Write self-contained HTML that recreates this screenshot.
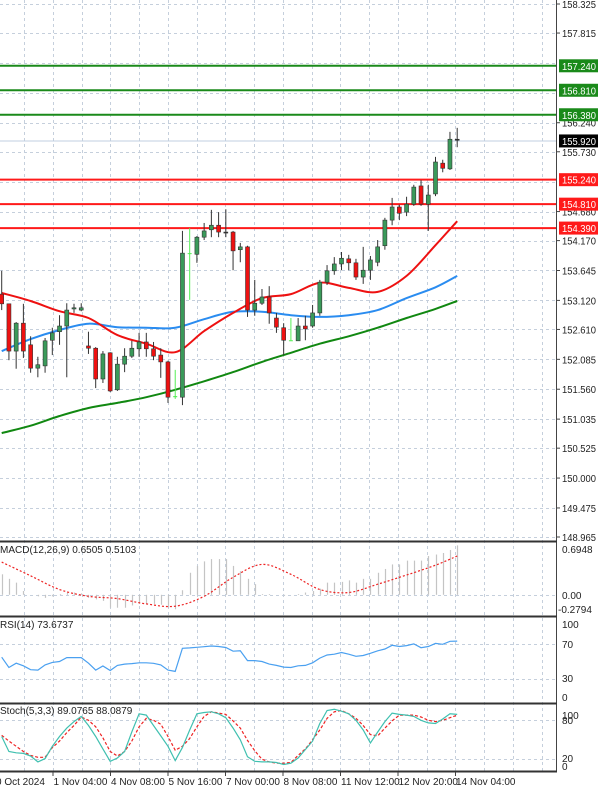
<!DOCTYPE html>
<html><head><meta charset="utf-8"><style>
html,body{margin:0;padding:0;background:#fff;width:600px;height:791px;overflow:hidden}
svg{display:block;font-family:"Liberation Sans",sans-serif}
</style></head><body>
<svg id="chart" width="600" height="791" viewBox="0 0 600 791" xmlns="http://www.w3.org/2000/svg"></svg>
<script>
// ---------- DATA ----------
const opens  = [153.23,153.06,152.23,152.72,152.34,151.93,151.97,152.42,152.57,152.67,152.97,152.95,152.32,152.28,151.74,152.20,151.55,152.00,152.14,152.27,152.39,152.27,152.16,152.04,151.42,151.42,153.95,153.93,154.23,154.36,154.44,154.32,154.32,154.01,154.06,152.95,153.07,153.18,152.81,152.64,152.42,152.41,152.67,152.67,152.90,153.44,153.64,153.76,153.85,153.78,153.53,153.65,153.79,154.08,154.53,154.76,154.67,154.81,155.13,154.81,154.99,155.53,155.43,155.95];
const highs  = [153.64,153.06,152.74,153.06,152.49,152.13,152.46,152.64,152.86,153.07,153.06,153.07,152.57,152.30,152.23,152.21,152.13,152.28,152.41,152.55,152.55,152.39,152.28,152.06,151.90,154.34,154.39,154.25,154.48,154.71,154.67,154.72,154.34,154.13,154.08,153.48,153.32,153.37,152.90,152.72,152.81,152.81,152.85,153.04,153.48,153.74,153.88,153.97,153.92,153.85,154.06,153.90,154.18,154.57,154.92,154.80,154.94,155.15,155.23,155.15,155.64,155.59,156.08,156.15];
const lows   = [152.95,152.07,151.92,152.11,151.85,151.77,151.85,152.16,152.34,151.77,152.90,152.93,152.18,151.58,151.67,151.51,151.53,151.86,152.11,152.13,152.13,152.07,151.76,151.32,151.39,151.28,153.13,153.78,154.18,154.23,154.23,154.23,153.65,153.79,152.83,152.85,153.04,152.71,152.55,152.16,152.41,152.41,152.42,152.64,152.85,153.39,153.57,153.65,153.65,153.48,153.41,153.48,153.72,154.01,154.44,154.53,154.60,154.78,154.78,154.34,154.95,155.37,155.41,155.81];
const closes = [153.06,152.23,152.72,152.23,151.93,151.99,152.41,152.55,152.67,152.95,152.99,152.99,152.28,151.74,152.18,151.53,152.00,152.14,152.28,152.39,152.27,152.14,152.04,151.42,151.44,153.95,153.95,154.23,154.34,154.44,154.32,154.31,153.99,154.06,152.95,153.07,153.18,152.90,152.65,152.42,152.42,152.67,152.62,152.90,153.44,153.64,153.76,153.86,153.78,153.53,153.65,153.83,154.06,154.53,154.76,154.65,154.81,155.11,154.81,154.97,155.55,155.44,155.95,155.94];
const lightBars = [24,26,40];
const maIdx   = [0,4,8,12,16,20,24,28,32,36,40,44,48,52,56,60,63];
const maFast  = [153.25,153.11,152.93,152.81,152.51,152.36,152.21,152.58,152.90,153.16,153.23,153.43,153.34,153.27,153.55,154.09,154.51];
const maMid   = [152.23,152.44,152.60,152.71,152.65,152.64,152.64,152.79,152.92,152.92,152.86,152.83,152.86,152.95,153.16,153.35,153.55];
const maSlow  = [150.79,150.92,151.09,151.23,151.32,151.42,151.55,151.70,151.86,152.04,152.20,152.36,152.49,152.64,152.81,152.97,153.11];
const greenLevels = [157.240,156.810,156.380];
const redLevels = [155.240,154.810,154.390];
const lastPrice = 155.920;
const priceTicks = [158.325,157.815,156.240,155.730,154.680,154.170,153.645,153.120,152.610,152.085,151.560,151.035,150.525,150.000,149.475,148.965];
const gridPrices = [158.325,157.815,157.290,156.765,156.240,155.730,155.205,154.680,154.170,153.645,153.120,152.610,152.085,151.560,151.035,150.525,150.000,149.475,148.965];
const macdHist = [0.27,0.21,0.16,0.05,0,-0.02,-0.04,-0.02,0.01,0.03,0.03,0.02,-0.04,-0.06,-0.08,-0.17,-0.17,-0.17,-0.14,-0.12,-0.12,-0.12,-0.13,-0.17,-0.19,0.06,0.29,0.38,0.44,0.47,0.47,0.47,0.38,0.31,0.21,0.14,0.01,0.01,0,-0.01,0,0.01,0.03,0.05,0.08,0.16,0.16,0.17,0.19,0.16,0.21,0.21,0.29,0.34,0.40,0.40,0.45,0.45,0.45,0.51,0.53,0.55,0.59,0.65];
const macdSigIdx = [0,4,8,12,16,20,24,28,32,36,40,44,48,52,56,60,63];
const macdSig = [0.43,0.25,0.07,-0.02,-0.05,-0.12,-0.15,-0.02,0.23,0.40,0.27,0.07,0.03,0.14,0.26,0.39,0.51];
const rsi = [55,43,48,45,40.5,40,46,49,50,54.5,54.5,54.5,48,40,44.8,39.5,45.5,47,47.5,48.5,48.5,47.9,46,40,38.5,65.3,65.8,66.5,67.2,68,67.5,66.3,62,62.5,51,51,50,47,45.5,43.5,43,45,45.5,48.5,54,57.6,58.5,60.5,58.5,56,57,59.5,62.5,64.5,68.8,67.5,68.5,70.5,66,67.5,71,70,73.5,73.7];
const stochK = [55,32,30,29,25,16,21,40,55,68,78,86,72,55,36,17,22,32,62,90,88,72,56,40,18,38,65,90,92,93,90,84,68,50,24,17,16,16,15,12,14,22,35,48,75,95,97,94,90,80,65,45,62,78,91,89,88,86,80,76,75,82,90,89];
const stochD = [57,48,40,32,26,23,23,38,48,61,72,85,80,70,53,32,25,32,48,70,83,80,74,55,34,40,52,70,86,93,91,89,79,68,49,33,20,16,14,14,15,26,36,50,65,83,93,95,90,83,72,58,56,68,79,88,88,88,85,80,78,80,84,88];
const timeLabels = ["0 Oct 2024","1 Nov 04:00","4 Nov 08:00","5 Nov 16:00","7 Nov 00:00","8 Nov 08:00","11 Nov 12:00","12 Nov 20:00","14 Nov 04:00"];

// ---------- SCALES ----------
const NS="http://www.w3.org/2000/svg";
const svg=document.getElementById('chart');
const AX=556;
const xOf=i=>1.7+7.23*i;
const yP=p=>4+(158.325-p)/0.017561;
const yM=v=>542+(0.6948-v)*76;
const yR=v=>704.5-v*0.86;
const yS=v=>772.3-v*0.65;
function mk(tag,attrs,parent){const e=document.createElementNS(NS,tag);for(const k in attrs)e.setAttribute(k,attrs[k]);(parent||svg).appendChild(e);return e;}
function smooth(pts){let d='M'+pts[0][0].toFixed(1)+','+pts[0][1].toFixed(1);
for(let i=0;i<pts.length-1;i++){const p0=pts[Math.max(0,i-1)],p1=pts[i],p2=pts[i+1],p3=pts[Math.min(pts.length-1,i+2)];
const c1=[p1[0]+(p2[0]-p0[0])/6,p1[1]+(p2[1]-p0[1])/6],c2=[p2[0]-(p3[0]-p1[0])/6,p2[1]-(p3[1]-p1[1])/6];
d+=' C'+c1[0].toFixed(1)+','+c1[1].toFixed(1)+' '+c2[0].toFixed(1)+','+c2[1].toFixed(1)+' '+p2[0].toFixed(1)+','+p2[1].toFixed(1);}
return d;}

// grid
const grid=mk('g',{stroke:'#c5cfdc','stroke-width':1,'stroke-dasharray':'3,3'});


for(let k=0;k<19;k++){const gx=Math.round(24+28.75*k)+0.5;mk('line',{x1:gx,y1:0,x2:gx,y2:771},grid);}
gridPrices.forEach(p=>{const y=Math.round(yP(p))+0.5;mk('line',{x1:0,y1:y,x2:AX,y2:y},grid);});
[0].forEach(v=>{const y=Math.round(yM(v))+0.5;mk('line',{x1:0,y1:y,x2:AX,y2:y},grid);});
[70,30].forEach(v=>{const y=Math.round(yR(v))+0.5;mk('line',{x1:0,y1:y,x2:AX,y2:y},grid);});
[80,20].forEach(v=>{const y=Math.round(yS(v))+0.5;mk('line',{x1:0,y1:y,x2:AX,y2:y},grid);});

// last price line
const lp=mk('line',{x1:0,y1:yP(lastPrice),x2:AX,y2:yP(lastPrice),stroke:'#c0cfe0','stroke-width':1});



// levels
greenLevels.forEach(p=>{const l=mk('line',{x1:0,y1:yP(p),x2:AX,y2:yP(p),stroke:'#1a8a1a','stroke-width':2});

});
redLevels.forEach(p=>{const l=mk('line',{x1:0,y1:yP(p),x2:AX,y2:yP(p),stroke:'#ff1a1a','stroke-width':2});

});

// moving averages
function maLine(vals,color,name){const pts=maIdx.map((i,k)=>[xOf(i),yP(vals[k])]);
const l=mk('path',{d:smooth(pts),fill:'none',stroke:color,'stroke-width':2,'stroke-linejoin':'round'});

}
maLine(maSlow,'#118811','ma-slow');
maLine(maMid,'#2a8cf0','ma-mid');
maLine(maFast,'#ee1111','ma-fast');

// candles
const cg=mk('g',{});


opens.forEach((o,i)=>{const c=closes[i],x=xOf(i);const light=lightBars.includes(i);
const up=c>o;const wc=light?'#55ee55':'#333';
const w=mk('line',{x1:x,y1:yP(highs[i]),x2:x,y2:yP(lows[i]),stroke:wc,'stroke-width':1},cg);


const top=yP(Math.max(o,c)),bot=yP(Math.min(o,c));
const b=mk('rect',{x:x-2,y:top,width:4,height:Math.max(1,bot-top),fill:light?'#55ee55':(Math.abs(c-o)<0.015?'#333':(up?'#3a9a5a':'#ee1111')),stroke:light?'none':'#333','stroke-width':0.6},cg);

});

// MACD
const mg=mk('g',{});


macdHist.forEach((v,i)=>{const x=Math.round(xOf(i))+0.5;const l=mk('line',{x1:x,y1:yM(0),x2:x,y2:yM(v),stroke:'#c4c4c4','stroke-width':1.2},mg);

});
const ms=mk('path',{d:smooth(macdSigIdx.map((i,k)=>[xOf(i),yM(macdSig[k])])),fill:'none',stroke:'#ee2222','stroke-width':1.2,'stroke-dasharray':'2,2'});



// RSI
const rl=mk('polyline',{points:rsi.map((v,i)=>xOf(i).toFixed(1)+','+yR(v).toFixed(1)).join(' '),fill:'none',stroke:'#4aa0f0','stroke-width':1.2});



// Stoch
const sd=mk('polyline',{points:stochD.map((v,i)=>xOf(i).toFixed(1)+','+yS(v).toFixed(1)).join(' '),fill:'none',stroke:'#ee2222','stroke-width':1.2,'stroke-dasharray':'3,2'});


const sk=mk('polyline',{points:stochK.map((v,i)=>xOf(i).toFixed(1)+','+yS(v).toFixed(1)).join(' '),fill:'none',stroke:'#40c0b0','stroke-width':1.2});



// panel borders
mk('rect',{x:AX,y:0,width:44,height:791,fill:'#fff'});
const ax=mk('line',{x1:AX+0.5,y1:0,x2:AX+0.5,y2:772,stroke:'#444','stroke-width':1});


[541.5,616.5,703.5,771.5].forEach(y=>{const l=mk('line',{x1:0,y1:y,x2:AX+1,y2:y,stroke:'#333','stroke-width':2});

});

function txt(s,x,y,attrs,name){const t=mk('text',Object.assign({x:x,y:y,'font-size':10,fill:'#222'},attrs||{}));t.textContent=s;

return t;}

// price labels
priceTicks.forEach(p=>{const y=yP(p);mk('line',{x1:AX,y1:y,x2:AX+4,y2:y,stroke:'#444'});txt(p.toFixed(3),562,y+4,{textLength:34,lengthAdjust:'spacingAndGlyphs'},'price-tick-label');});
function box(p,bg,name){const y=yP(p);mk('rect',{x:559,y:y-6.5,width:39,height:13,fill:bg});txt(p.toFixed(3),562,y+4,{fill:'#fff',textLength:34,lengthAdjust:'spacingAndGlyphs'},name);}
greenLevels.forEach(p=>box(p,'#1a8a1a','resistance-label'));
redLevels.forEach(p=>box(p,'#ff1a1a','support-label'));
box(lastPrice,'#000','last-price-label');

// indicator axis labels
txt('0.6948',562,553,{},'macd-max-label');
txt('0.00',562,599,{},'macd-zero-label');
txt('-0.2794',558,613,{},'macd-min-label');
txt('100',562,628,{},'rsi-100-label');
txt('70',562,648,{},'rsi-70-label');
txt('30',562,682,{},'rsi-30-label');
txt('0',562,701,{},'rsi-0-label');
txt('100',562,719,{},'stoch-100-label');
txt('80',562,724,{},'stoch-80-label');
txt('20',562,762,{},'stoch-20-label');
txt('0',562,770,{},'stoch-0-label');

// indicator titles
txt('MACD(12,26,9) 0.6505 0.5103',0,553,{},'macd-title');
txt('RSI(14) 73.6737',0,628,{},'rsi-title');
txt('Stoch(5,3,3) 89.0765 88.0879',0,714,{},'stoch-title');

// time labels
timeLabels.forEach((s,k)=>{const gx=-5+57.5*k;txt(s,gx+1,785,{},'time-axis-label');
mk('line',{x1:gx+0.5,y1:772,x2:gx+0.5,y2:776,stroke:'#444'});});
</script>
</body></html>
